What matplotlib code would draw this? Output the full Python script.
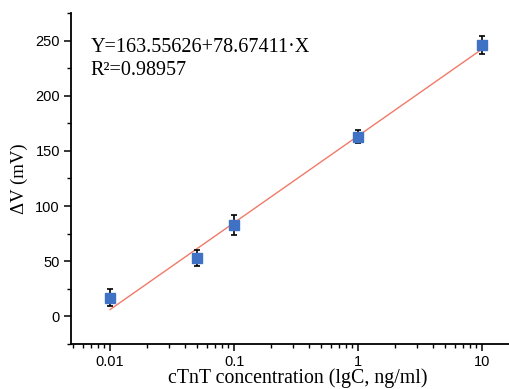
import numpy as np
import matplotlib.pyplot as plt
from matplotlib.ticker import LogLocator, MultipleLocator, FixedLocator, FixedFormatter

# cTnT calibration data
conc = [0.01, 0.05, 0.1, 1, 10]          # ng/ml
dV = [17, 53, 82.5, 163, 246]            # mV
err = [7.5, 7.5, 9, 5.5, 8]              # mV
intercept = 163.55626
slope = 78.67411
r2 = 0.98957

fig = plt.figure(figsize=(5.09, 3.89), dpi=100)
ax = fig.add_axes([0.1395, 0.1157, 0.8605, 0.851])

xfit = np.logspace(np.log10(conc[0]), np.log10(conc[-1]), 100)
ax.plot(xfit, intercept + slope * np.log10(xfit), color='#f07a68', lw=1.0, zorder=2)
ax.errorbar(conc, dV, yerr=err, fmt='none', ecolor='black', elinewidth=1.2,
            capsize=2.5, capthick=1.2, zorder=3)
ax.plot(conc, dV, 's', color='#3f72c4', ms=6.5, zorder=4)

ax.set_xscale('log')
ax.set_xlim(0.00484, 16.5)
ax.set_ylim(-25, 275)

for s in ['top', 'right']:
    ax.spines[s].set_visible(False)
for s in ['left', 'bottom']:
    ax.spines[s].set_linewidth(1.3)

ax.xaxis.set_major_locator(FixedLocator([0.01, 0.1, 1, 10]))
ax.xaxis.set_major_formatter(FixedFormatter(['0.01', '0.1', '1', '10']))
ax.xaxis.set_minor_locator(LogLocator(base=10, subs=np.arange(2, 10)))
ax.xaxis.set_minor_formatter(plt.NullFormatter())
ax.yaxis.set_major_locator(FixedLocator([0, 50, 100, 150, 200, 250]))
ax.yaxis.set_minor_locator(MultipleLocator(25))

ax.tick_params(which='major', direction='out', length=5, width=1.1,
               labelsize=10.5, pad=3)
ax.tick_params(which='minor', direction='out', length=3, width=1.0)
for lab in ax.get_xticklabels() + ax.get_yticklabels():
    lab.set_family('Liberation Sans')

serif = 'Liberation Serif'
ax.set_ylabel('ΔV (mV)', family=serif, fontsize=13.5, labelpad=5)
ax.set_xlabel('cTnT concentration (lgC, ng/ml)', family=serif, fontsize=14.3)
ax.xaxis.set_label_coords(0.518, -0.104)
ax.xaxis.label.set_va('center')

ax.text(0.045, 0.897, 'Y=%.5f+%.5f·X' % (intercept, slope), transform=ax.transAxes,
        family=serif, fontsize=14.5, va='center')
ax.text(0.045, 0.826, 'R²=%.5f' % r2, transform=ax.transAxes,
        family=serif, fontsize=14.5, va='center')

fig.savefig('out.png', dpi=100)
